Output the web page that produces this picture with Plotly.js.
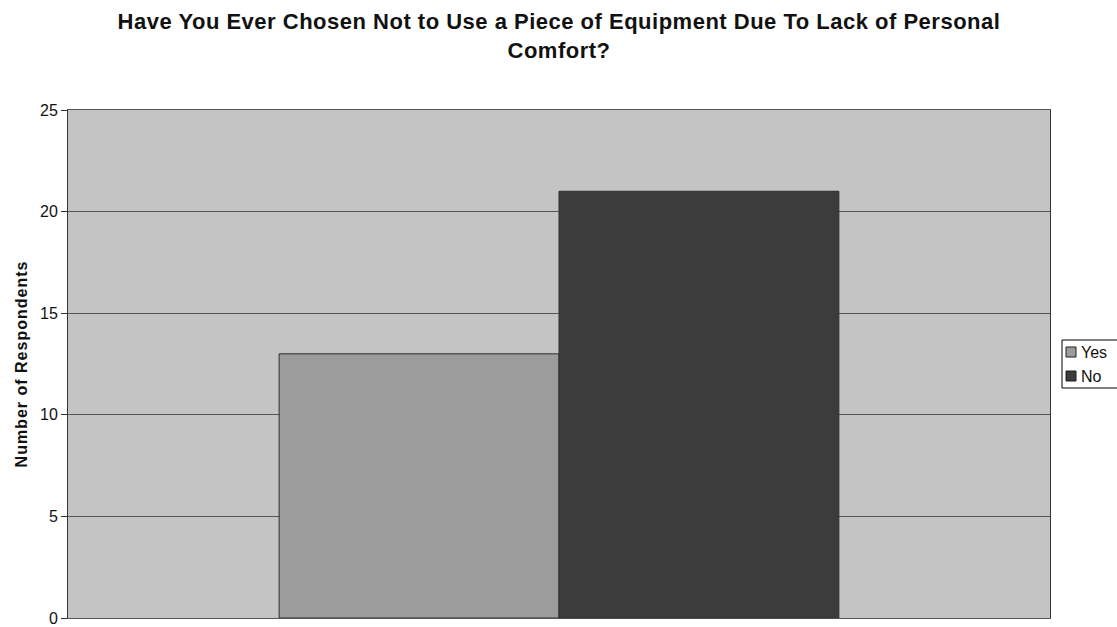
<!DOCTYPE html>
<html>
<head>
<meta charset="utf-8">
<script src="https://cdn.plot.ly/plotly-3.0.1.min.js"></script>
<style>
  html, body { margin: 0; padding: 0; background: #ffffff; }
  #chart { width: 1117px; height: 627px; }
  /* slightly wider letter spacing for the heading and the axis title */
  #chart .gtitle { letter-spacing: 0.5px; }
  #chart .ytitle { letter-spacing: 1px; }
</style>
</head>
<body>
<div id="chart"></div>
<script>
// Survey answers and how many respondents gave each
const answers = ['Yes', 'No'];
const respondents = [13, 21];
const answerColors = ['#9c9c9c', '#3c3c3c'];
const group = ['Responses'];
const yTicks = [0, 5, 10, 15, 20, 25];

const W = 1117, H = 627;
const M = { l: 68, r: 67, t: 110, b: 9 };
const plotW = W - M.l - M.r, plotH = H - M.t - M.b;
// pixel position -> paper fraction, used for the key box at the right
const px = x => (x - M.l) / plotW;
const py = y => (H - M.b - y) / plotH;

const traces = answers.map((name, i) => ({
  type: 'bar',
  name: name,
  x: group,
  y: [respondents[i]],
  marker: { color: answerColors[i], line: { color: '#2e2e2e', width: 1 } },
  hoverinfo: 'name+y',
  showlegend: false
}));

// key: bordered box, one swatch and label per answer
const keyShapes = [{
  type: 'rect', xref: 'paper', yref: 'paper',
  x0: px(1062), x1: px(1135), y0: py(388), y1: py(340),
  fillcolor: '#ffffff', line: { color: '#000000', width: 1 }, layer: 'above'
}];
const keyLabels = [];
answers.forEach((name, i) => {
  const cy = 352 + i * 24;
  keyShapes.push({
    type: 'rect', xref: 'paper', yref: 'paper',
    x0: px(1066), x1: px(1076), y0: py(cy + 5), y1: py(cy - 5),
    fillcolor: answerColors[i], line: { color: '#1e1e1e', width: 1 }, layer: 'above'
  });
  keyLabels.push({
    xref: 'paper', yref: 'paper', x: px(1079), y: py(cy),
    xanchor: 'left', yanchor: 'middle', showarrow: false,
    text: name, font: { size: 16, color: '#111111' }
  });
});

const layout = {
  width: W,
  height: H,
  paper_bgcolor: '#ffffff',
  plot_bgcolor: '#c4c4c4',
  margin: { l: M.l, r: M.r, t: M.t, b: M.b, autoexpand: false },
  font: { family: 'Liberation Sans, Arial, sans-serif', color: '#111111' },
  title: {
    text: '<b>Have You Ever Chosen Not to Use a Piece of Equipment Due To Lack of Personal<br>Comfort?</b>',
    font: { size: 22, color: '#111111' },
    x: 0.5,
    xref: 'paper',
    xanchor: 'center',
    yref: 'container',
    y: 0.953,
    yanchor: 'top'
  },
  barmode: 'group',
  bargap: 0.43,
  bargroupgap: 0,
  showlegend: false,
  shapes: keyShapes,
  annotations: keyLabels,
  xaxis: {
    showticklabels: false,
    ticks: '',
    showgrid: false,
    zeroline: false,
    showline: true,
    linecolor: '#555555',
    linewidth: 1,
    mirror: true,
    fixedrange: true
  },
  yaxis: {
    range: [0, 25],
    tickvals: yTicks,
    ticktext: yTicks.map(String),
    ticks: 'outside',
    ticklen: 6,
    tickcolor: '#333333',
    tickfont: { size: 16, color: '#111111' },
    ticklabeloverflow: 'allow',
    showgrid: true,
    gridcolor: '#555555',
    gridwidth: 1,
    zeroline: false,
    showline: true,
    linecolor: '#333333',
    linewidth: 1,
    mirror: true,
    title: {
      text: '<b>Number of Respondents</b>',
      font: { size: 16, color: '#111111' },
      standoff: 8
    },
    fixedrange: true
  }
};

Plotly.newPlot('chart', traces, layout, { displayModeBar: false, staticPlot: true });
</script>
</body>
</html>
